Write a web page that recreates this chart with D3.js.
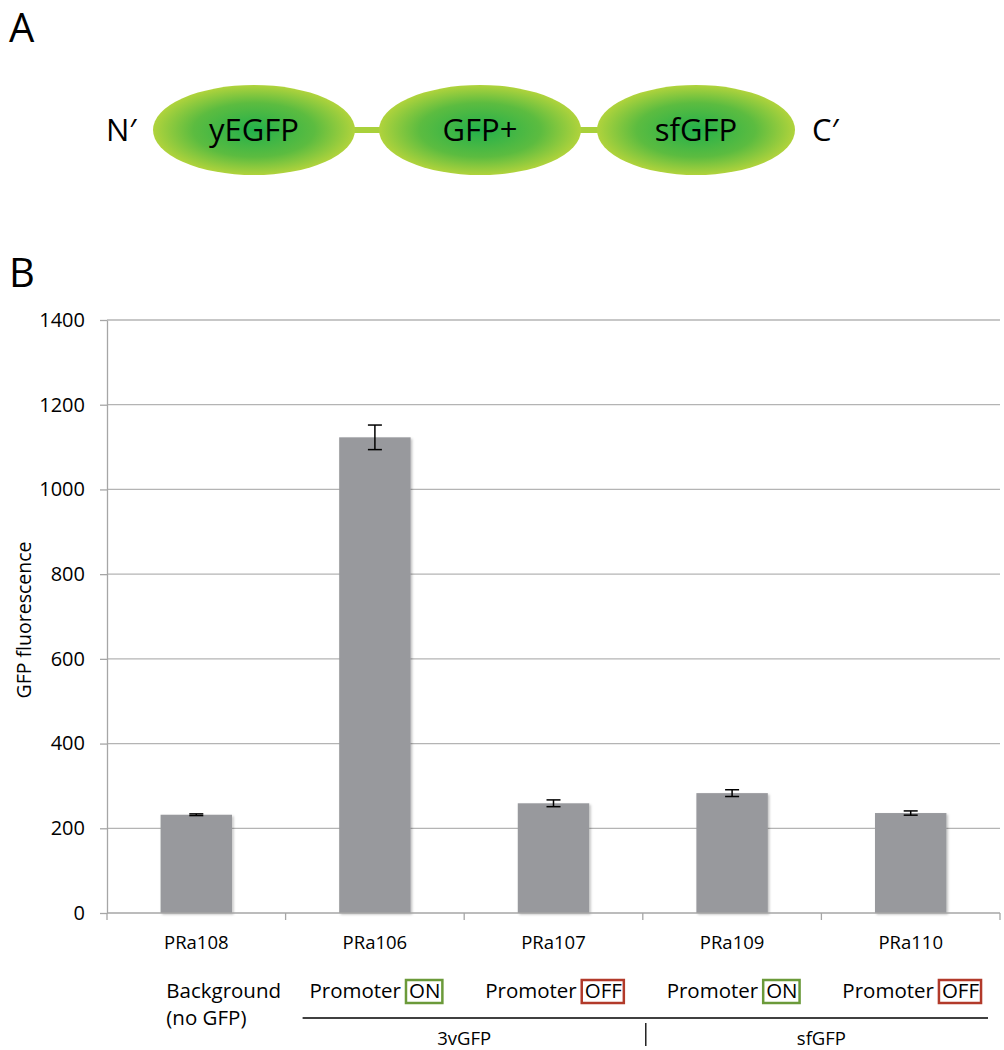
<!DOCTYPE html>
<html>
<head>
<meta charset="utf-8">
<script src="https://cdn.jsdelivr.net/npm/d3@7"></script>
<style>
  body { margin: 0; background: #fff; }
  text { font-family: "Open Sans", "Noto Sans", sans-serif; }
</style>
</head>
<body>
<div id="chartDiv"></div>
<script>
// panel A: fusion domains
var domains = ["yEGFP", "GFP+", "sfGFP"];

// panel B: bar data
var strains = ["PRa108", "PRa106", "PRa107", "PRa109", "PRa110"];
var fluorescence = [232, 1123, 259, 283, 236];
var errors = [2, 29, 8, 8, 5];
var promoterState = [null, "ON", "OFF", "ON", "OFF"];
var groups = [
    { name: "3vGFP", from: 1, to: 2 },
    { name: "sfGFP", from: 3, to: 4 }
];
var yTicks = [0, 200, 400, 600, 800, 1000, 1200, 1400];

var width = 1004;
var height = 1050;
var margin = { top: 320, right: 4, bottom: 137, left: 107 };
var chartWidth = width - margin.left - margin.right;
var chartHeight = height - margin.top - margin.bottom;

var svg = d3.select("#chartDiv").append("svg")
    .attr("width", width)
    .attr("height", height);

// ---------- panel A ----------
svg.append("text")
    .attr("x", 9).attr("y", 42)
    .style("font-size", "40px")
    .style("font-family", "'Liberation Sans Narrow', 'Open Sans', sans-serif")
    .text("A");

var defs = svg.append("defs");
var grad = defs.append("radialGradient").attr("id", "gfpGrad")
    .attr("cx", "50%").attr("cy", "50%").attr("r", "50%");
grad.append("stop").attr("offset", "0%").attr("stop-color", "#22b04b");
grad.append("stop").attr("offset", "60%").attr("stop-color", "#5cbc40");
grad.append("stop").attr("offset", "100%").attr("stop-color", "#b0d33c");

var shadow = defs.append("filter").attr("id", "barShadow")
    .attr("x", "-10%").attr("y", "-10%").attr("width", "125%").attr("height", "120%");
shadow.append("feDropShadow").attr("dx", 1.5).attr("dy", 1.5)
    .attr("stdDeviation", 1.2).attr("flood-color", "#000").attr("flood-opacity", 0.25);

var dx = d3.scaleOrdinal().domain(domains).range([254, 480, 696]);
var rowY = 130;

svg.append("line")
    .attr("x1", dx(domains[0])).attr("x2", dx(domains[domains.length - 1]))
    .attr("y1", rowY).attr("y2", rowY)
    .attr("stroke", "#a9d13b").attr("stroke-width", 6);

var dom = svg.selectAll(".domain-g").data(domains).enter().append("g")
    .attr("class", "domain-g")
    .attr("transform", function(d) { return "translate(" + dx(d) + "," + rowY + ")"; });
dom.append("ellipse")
    .attr("rx", function(d, i) { return i == 2 ? 99 : 101; })
    .attr("ry", 45)
    .attr("fill", "url(#gfpGrad)");
dom.append("text")
    .attr("text-anchor", "middle")
    .attr("dy", "0.36em")
    .style("font-size", "31px")
    .text(function(d) { return d; });

svg.append("text").attr("x", 106).attr("y", rowY).attr("dy", "0.36em")
    .style("font-size", "31px").text("N\u2032");
svg.append("text").attr("x", 812).attr("y", rowY).attr("dy", "0.36em")
    .style("font-size", "31px").text("C\u2032");

// ---------- panel B ----------
svg.append("text")
    .attr("x", 9).attr("y", 287)
    .style("font-size", "40px")
    .style("font-family", "'Liberation Sans Narrow', 'Open Sans', sans-serif")
    .text("B");

var x = d3.scaleBand().domain(strains).range([0, chartWidth]).paddingInner(0.6).paddingOuter(0.3);
var xb = d3.scaleBand().domain(strains).range([0, chartWidth]);
var y = d3.scaleLinear().domain([0, 1400]).range([chartHeight, 0]);

var plot = svg.append("g")
    .attr("transform", "translate(" + margin.left + "," + margin.top + ")");

// gridlines
plot.append("g").selectAll("line").data(yTicks.slice(1)).enter().append("line")
    .attr("x1", 0).attr("x2", chartWidth)
    .attr("y1", function(d) { return y(d); }).attr("y2", function(d) { return y(d); })
    .attr("stroke", "#b4b4b4").attr("stroke-width", 1.3);

// y axis
var yAxis = d3.axisLeft(y).tickValues(yTicks).tickFormat(d3.format("d"))
    .tickSize(7).tickSizeOuter(0).tickPadding(15);
var yg = plot.append("g").call(yAxis);
yg.select(".domain").attr("stroke", "#a6a6a6").attr("stroke-width", 1.3);
yg.selectAll(".tick line").attr("stroke", "#a6a6a6").attr("stroke-width", 1.3);
yg.selectAll(".tick text").style("font-size", "20px").style("fill", "#000");

svg.append("text")
    .attr("text-anchor", "middle")
    .attr("dy", "0.35em")
    .attr("transform", "translate(24,620) rotate(-90)")
    .style("font-size", "19.5px")
    .text("GFP fluorescence");

// bars
var bars = plot.selectAll(".bar").data(strains).enter().append("g").attr("class", "bar");
bars.append("rect")
    .attr("x", function(d) { return x(d); })
    .attr("width", x.bandwidth())
    .attr("y", function(d, i) { return y(fluorescence[i]); })
    .attr("height", function(d, i) { return chartHeight - y(fluorescence[i]); })
    .attr("fill", "#98999d")
    .attr("filter", "url(#barShadow)");

// error bars
var cap = 7;
bars.each(function(d, i) {
    var g = d3.select(this);
    var cx = x(d) + x.bandwidth() / 2;
    var lo = y(fluorescence[i] - errors[i]), hi = y(fluorescence[i] + errors[i]);
    g.append("line").attr("x1", cx).attr("x2", cx).attr("y1", lo).attr("y2", hi)
        .attr("stroke", "#000").attr("stroke-width", 1.5);
    [lo, hi].forEach(function(v) {
        g.append("line").attr("x1", cx - cap).attr("x2", cx + cap).attr("y1", v).attr("y2", v)
            .attr("stroke", "#000").attr("stroke-width", 1.5);
    });
});

// x axis
var xg = plot.append("g").attr("transform", "translate(0," + chartHeight + ")");
xg.append("line").attr("x1", 0).attr("x2", chartWidth).attr("y1", 0).attr("y2", 0)
    .attr("stroke", "#a6a6a6").attr("stroke-width", 1.3);
xg.selectAll(".xtick").data(strains.concat(["end"])).enter().append("line")
    .attr("x1", function(d, i) { return i * xb.bandwidth(); })
    .attr("x2", function(d, i) { return i * xb.bandwidth(); })
    .attr("y1", 0).attr("y2", 7)
    .attr("stroke", "#a6a6a6").attr("stroke-width", 1.3);
xg.selectAll(".xlabel").data(strains).enter().append("text")
    .attr("text-anchor", "middle")
    .attr("x", function(d) { return xb(d) + xb.bandwidth() / 2; })
    .attr("y", 36)
    .style("font-size", "18.5px")
    .text(function(d) { return d; });

// promoter annotations
var annY = chartHeight + 85;
var ann = plot.selectAll(".ann").data(strains).enter().append("g")
    .attr("transform", function(d) { return "translate(" + (xb(d) + xb.bandwidth() / 2) + "," + annY + ")"; });
ann.each(function(d, i) {
    var g = d3.select(this);
    var st = promoterState[i];
    if (st == null) {
        g.append("text").attr("x", -30).style("font-size", "20.5px").text("Background");
        g.append("text").attr("x", -30).attr("y", 27).style("font-size", "20.5px").text("(no GFP)");
        return;
    }
    var t1 = g.append("text").style("font-size", "20.5px").text("Promoter");
    var t2 = g.append("text").style("font-size", "20.5px").text(st);
    var w1 = t1.node().getComputedTextLength();
    var w2 = t2.node().getComputedTextLength();
    var gap = 8;
    var total = w1 + gap + w2;
    t1.attr("x", -total / 2);
    t2.attr("x", -total / 2 + w1 + gap);
    g.insert("rect", "text")
        .attr("x", -total / 2 + w1 + gap - 3).attr("y", -18)
        .attr("width", w2 + 5).attr("height", 23)
        .attr("fill", "none")
        .attr("stroke", st == "ON" ? "#6b9a3a" : "#b23a2a")
        .attr("stroke-width", 2.5);
});

// group brackets
var lineY = chartHeight + 105;
plot.append("line")
    .attr("x1", xb(strains[1]) + 17).attr("x2", chartWidth - 12)
    .attr("y1", lineY).attr("y2", lineY)
    .attr("stroke", "#000").attr("stroke-width", 1.3);
plot.append("line")
    .attr("x1", xb(strains[3]) + 3).attr("x2", xb(strains[3]) + 3)
    .attr("y1", lineY + 5).attr("y2", lineY + 28)
    .attr("stroke", "#000").attr("stroke-width", 1.3);
plot.selectAll(".grp").data(groups).enter().append("text")
    .attr("text-anchor", "middle")
    .attr("x", function(d) { return (xb(strains[d.from]) + xb(strains[d.to]) + xb.bandwidth()) / 2; })
    .attr("y", lineY + 27)
    .style("font-size", "18.5px")
    .text(function(d) { return d.name; });
</script>
</body>
</html>
